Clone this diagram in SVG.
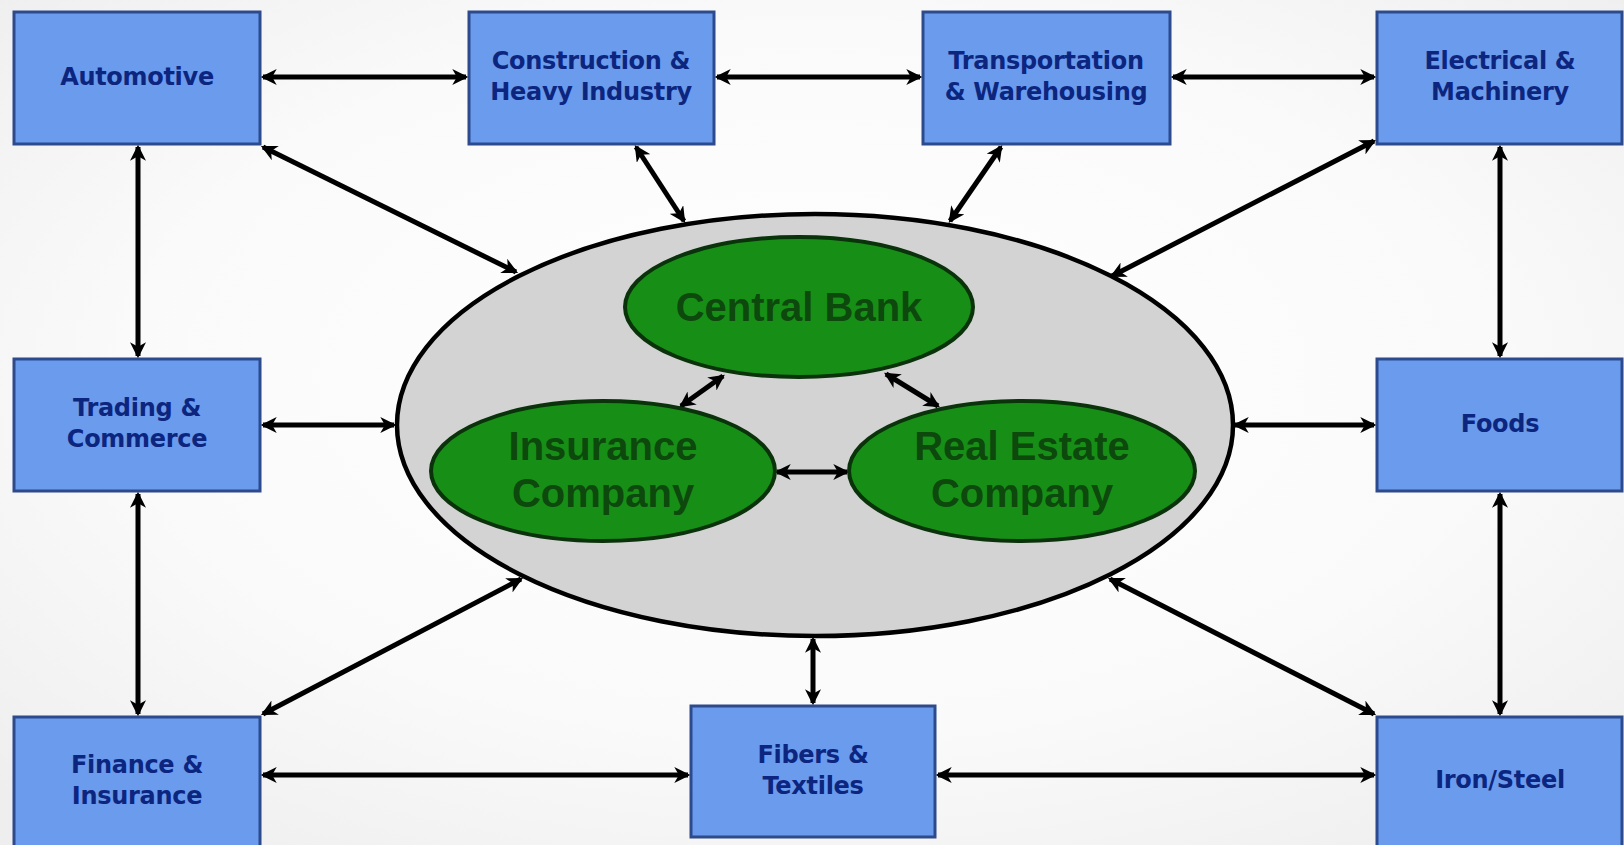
<svg xmlns="http://www.w3.org/2000/svg" width="1624" height="845" viewBox="0 0 1624 845">
<defs>
<radialGradient id="bg" cx="0.5" cy="0.45" r="0.7">
<stop offset="0" stop-color="#ffffff"/>
<stop offset="0.6" stop-color="#fafafa"/>
<stop offset="1" stop-color="#eeeeee"/>
</radialGradient>
<marker id="ah" viewBox="0 0 14 14" markerUnits="userSpaceOnUse" markerWidth="16" markerHeight="16" refX="12" refY="7" orient="auto-start-reverse">
<path d="M0,0 L14,7 L0,14 L4,7 z" fill="#000"/>
</marker>
</defs>
<style>
.box{fill:#6b9bed;stroke:#2c4a8c;stroke-width:3}
.bt{font-family:"DejaVu Sans",Verdana,sans-serif;font-weight:bold;font-size:24px;fill:#0c2680;text-anchor:middle;letter-spacing:-0.3px}
.big{fill:#d3d3d3;stroke:#000;stroke-width:4.5}
.gr{fill:#178f17;stroke:#0b330b;stroke-width:4}
.gt{font-family:"Liberation Sans",Arial,sans-serif;font-weight:bold;font-size:40px;fill:#0d480d;text-anchor:middle}
.c line{stroke:#000;stroke-width:5;marker-start:url(#ah);marker-end:url(#ah)}
</style>
<rect width="1624" height="845" fill="url(#bg)"/>
<g id="center">
<ellipse class="big" cx="815" cy="425" rx="418" ry="211"/>
</g>
<g class="c" id="connectors">
<line x1="263" y1="77" x2="466" y2="77"/>
<line x1="717" y1="77" x2="920" y2="77"/>
<line x1="1173" y1="77" x2="1374" y2="77"/>
<line x1="138" y1="147" x2="138" y2="356"/>
<line x1="138" y1="494" x2="138" y2="714"/>
<line x1="1500" y1="147" x2="1500" y2="356"/>
<line x1="1500" y1="494" x2="1500" y2="714"/>
<line x1="263" y1="775" x2="688" y2="775"/>
<line x1="938" y1="775" x2="1374" y2="775"/>
<line x1="263" y1="425" x2="394" y2="425"/>
<line x1="1235" y1="425" x2="1374" y2="425"/>
<line x1="263" y1="147" x2="516" y2="272"/>
<line x1="636" y1="147" x2="684" y2="221"/>
<line x1="1001" y1="147" x2="950" y2="221"/>
<line x1="1374" y1="141" x2="1112" y2="276"/>
<line x1="263" y1="714" x2="521" y2="579"/>
<line x1="1374" y1="714" x2="1110" y2="579"/>
<line x1="813" y1="639" x2="813" y2="703"/>
<line x1="723" y1="376" x2="681" y2="406"/>
<line x1="886" y1="374" x2="938" y2="406"/>
<line x1="777" y1="472" x2="847" y2="472"/>
</g>
<g id="centralbank"><ellipse class="gr" cx="799" cy="307" rx="174" ry="70"/><text class="gt" x="799" y="321">Central Bank</text></g>
<g id="insurance"><ellipse class="gr" cx="603" cy="471" rx="172" ry="70"/><text class="gt" x="603" y="460">Insurance</text><text class="gt" x="603" y="507">Company</text></g>
<g id="realestate"><ellipse class="gr" cx="1022" cy="471" rx="173" ry="70"/><text class="gt" x="1022" y="460">Real Estate</text><text class="gt" x="1022" y="507">Company</text></g>
<g id="automotive"><rect class="box" x="14" y="12" width="246" height="132"/><text class="bt" x="137" y="85">Automotive</text></g>
<g id="construction"><rect class="box" x="469" y="12" width="245" height="132"/><text class="bt" x="591" y="69">Construction &amp;</text><text class="bt" x="591" y="100">Heavy Industry</text></g>
<g id="transportation"><rect class="box" x="923" y="12" width="247" height="132"/><text class="bt" x="1046" y="69">Transportation</text><text class="bt" x="1046" y="100">&amp; Warehousing</text></g>
<g id="electrical"><rect class="box" x="1377" y="12" width="245" height="132"/><text class="bt" x="1500" y="69">Electrical &amp;</text><text class="bt" x="1500" y="100">Machinery</text></g>
<g id="trading"><rect class="box" x="14" y="359" width="246" height="132"/><text class="bt" x="137" y="416">Trading &amp;</text><text class="bt" x="137" y="447">Commerce</text></g>
<g id="foods"><rect class="box" x="1377" y="359" width="245" height="132"/><text class="bt" x="1500" y="432">Foods</text></g>
<g id="finance"><rect class="box" x="14" y="717" width="246" height="135"/><text class="bt" x="137" y="773">Finance &amp;</text><text class="bt" x="137" y="804">Insurance</text></g>
<g id="fibers"><rect class="box" x="691" y="706" width="244" height="131"/><text class="bt" x="813" y="763">Fibers &amp;</text><text class="bt" x="813" y="794">Textiles</text></g>
<g id="iron"><rect class="box" x="1377" y="717" width="245" height="135"/><text class="bt" x="1500" y="788">Iron/Steel</text></g>
</svg>
